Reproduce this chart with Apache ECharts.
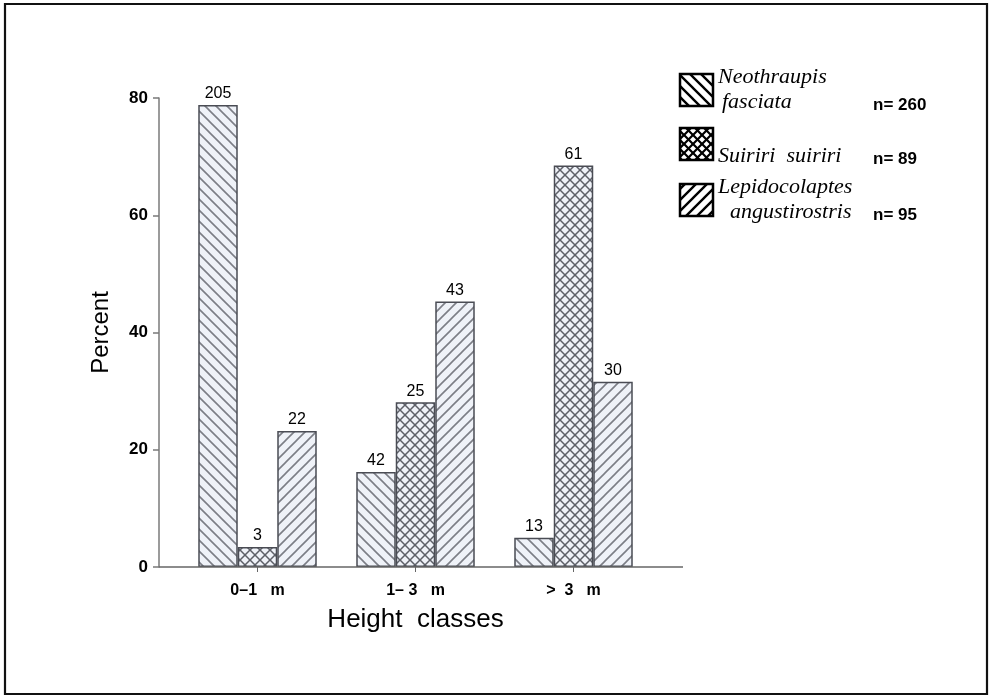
<!DOCTYPE html>
<html>
<head>
<meta charset="utf-8">
<script src="https://cdn.jsdelivr.net/npm/echarts@6/dist/echarts.min.js"></script>
<style>
  html, body { margin: 0; padding: 0; background: #fff; }
  #chart { width: 989px; height: 700px; }
</style>
</head>
<body>
<div id="chart"></div>
<script>
// Height classes on the category axis
const categories = ['0\u20131   m', '1\u2013 3   m', '>  3   m'];

// Percent of observations per height class, one array per species
const neothraupisPercent = [78.8, 16.2, 5.0];
const suiririPercent = [3.4, 28.1, 68.5];
const lepidocolaptesPercent = [23.2, 45.3, 31.6];

// Number of observations written above each bar
const neothraupisCounts = [205, 42, 13];
const suiririCounts = [3, 25, 61];
const lepidocolaptesCounts = [22, 43, 30];

// Legend text and sample sizes
const speciesLines = [['Neothraupis', 'fasciata'], ['Suiriri  suiriri'], ['Lepidocolaptes', 'angustirostris']];
const sampleSizes = [260, 89, 95];

// Y axis range / tick step
const yMin = 0, yMax = 80, yStep = 20;

function makePattern(kind, size, bg, stroke, lw) {
  const c = document.createElement('canvas');
  c.width = size; c.height = size;
  const g = c.getContext('2d');
  if (bg) { g.fillStyle = bg; g.fillRect(0, 0, size, size); }
  g.strokeStyle = stroke; g.lineWidth = lw; g.lineCap = 'square';
  const back = () => { // "\" lines
    g.beginPath();
    g.moveTo(-1, -1); g.lineTo(size + 1, size + 1);
    g.moveTo(size - 2, -2); g.lineTo(size + 2, 2);
    g.moveTo(-2, size - 2); g.lineTo(2, size + 2);
    g.stroke();
  };
  const fwd = () => { // "/" lines
    g.beginPath();
    g.moveTo(-1, size + 1); g.lineTo(size + 1, -1);
    g.moveTo(-2, 2); g.lineTo(2, -2);
    g.moveTo(size - 2, size + 2); g.lineTo(size + 2, size - 2);
    g.stroke();
  };
  if (kind === 'back') back();
  else if (kind === 'fwd') fwd();
  else { back(); fwd(); }
  return { image: c, repeat: 'repeat' };
}

const barBg = '#eff2f8', barLine = '#7c7e86';
const barFills = [
  makePattern('back', 11, barBg, barLine, 1.6),
  makePattern('cross', 10, barBg, '#5e6068', 1.5),
  makePattern('fwd', 11, barBg, barLine, 1.6)
];
const legendFills = [
  makePattern('back', 11, '#fff', '#000', 2.4),
  makePattern('cross', 9, '#fff', '#000', 2.2),
  makePattern('fwd', 11, '#fff', '#000', 2.4)
];

const seriesPercent = [neothraupisPercent, suiririPercent, lepidocolaptesPercent];
const seriesCounts = [neothraupisCounts, suiririCounts, lepidocolaptesCounts];

const chart = echarts.init(document.getElementById('chart'));
const font = 'Liberation Sans, Arial, sans-serif';

const series = seriesPercent.map((vals, i) => ({
  type: 'bar',
  name: speciesLines[i].join(' '),
  data: vals,
  barGap: '0%',
  barCategoryGap: '25%',
  itemStyle: { color: barFills[i], borderColor: '#4a4c54', borderWidth: 1.5 },
  label: {
    show: true, position: 'top', distance: 3,
    formatter: p => String(seriesCounts[i][p.dataIndex]),
    fontFamily: font, fontSize: 16, color: '#000'
  },
  silent: true
}));

// Legend: pattern box, species name, sample size
const legendTop = [74, 128, 184];
const legendGraphics = [];
speciesLines.forEach((lines, i) => {
  const y = legendTop[i];
  legendGraphics.push({
    type: 'rect', shape: { x: 680, y: y, width: 33, height: 32 },
    style: { fill: legendFills[i], stroke: '#000', lineWidth: 2.5 }
  });
  const textTop = lines.length === 2 ? y - 8 : y + 17;
  lines.forEach((t, k) => {
    legendGraphics.push({
      type: 'text', x: k === 0 ? 718 : (i === 0 ? 722 : 730), y: textTop + k * 25,
      style: { text: t, font: 'italic 22px "Liberation Serif", "DejaVu Serif", serif', fill: '#000' }
    });
  });
  legendGraphics.push({
    type: 'text', x: 873, y: y + 31,
    style: { text: 'n= ' + sampleSizes[i], font: 'bold 17px ' + font, fill: '#000', verticalAlign: 'middle' }
  });
});

const frame = { type: 'rect', shape: { x: 5, y: 4, width: 982, height: 690 },
  style: { fill: 'none', stroke: '#111', lineWidth: 2.2 } };

chart.setOption({
  animation: false,
  backgroundColor: '#fff',
  grid: { left: 178.5, right: 336.5, top: 98, bottom: 133 },
  xAxis: {
    type: 'category',
    data: categories,
    axisLine: { show: false },
    axisTick: { show: true, alignWithLabel: true, length: 5, lineStyle: { color: '#666' } },
    axisLabel: { margin: 16, fontFamily: font, fontWeight: 'bold', fontSize: 16, color: '#000' },
    name: 'Height  classes',
    nameLocation: 'middle',
    nameGap: 40,
    nameTextStyle: { fontFamily: font, fontSize: 26, color: '#000' }
  },
  yAxis: {
    type: 'value',
    min: yMin, max: yMax, interval: yStep,
    offset: 19.5,
    axisLine: { show: true, lineStyle: { color: '#7a7a7a', width: 1.5 } },
    axisTick: { show: true, length: 6, lineStyle: { color: '#7a7a7a', width: 1.5 } },
    splitLine: { show: false },
    axisLabel: { margin: 11, fontFamily: font, fontWeight: 'bold', fontSize: 17, color: '#000' },
    name: 'Percent',
    nameLocation: 'middle',
    nameGap: 46,
    nameTextStyle: { fontFamily: font, fontSize: 24, color: '#000' }
  },
  series: series,
  graphic: [frame].concat(legendGraphics)
});

// Baseline running from the y axis past the last bar
const y0 = chart.convertToPixel({ yAxisIndex: 0 }, yMin);
chart.setOption({
  graphic: [frame].concat(legendGraphics, [{
    type: 'line', shape: { x1: 159, y1: y0, x2: 683, y2: y0 },
    style: { stroke: '#666', lineWidth: 1.5 }, z: 10
  }])
});
</script>
</body>
</html>
